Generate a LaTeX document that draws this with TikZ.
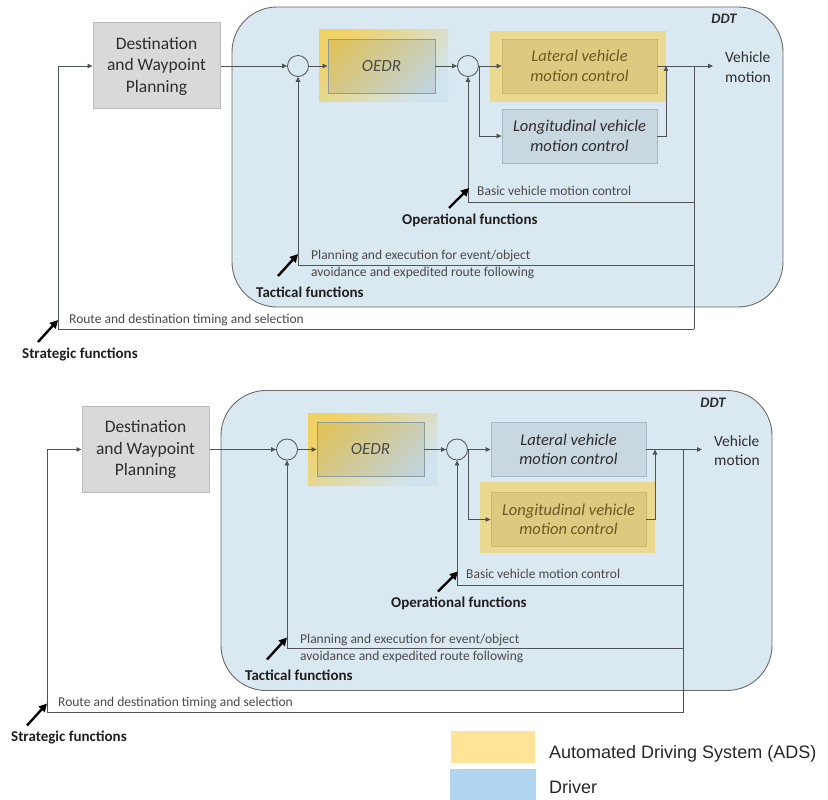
\documentclass[tikz,border=0pt]{standalone}
\usepackage{fontspec}
\setmainfont{Carlito}
\newfontfamily\legendfont{Liberation Sans}
\usetikzlibrary{arrows.meta}

\definecolor{ddtfill}{HTML}{DAE8F2}
\definecolor{ddtedge}{HTML}{6A6A6A}
\definecolor{planfill}{HTML}{D9D9D9}
\definecolor{planedge}{HTML}{BDBDBD}
\definecolor{linegray}{HTML}{4F5355}
\definecolor{textdark}{HTML}{2E2E2E}
\definecolor{textgray}{HTML}{4A4A4A}
\definecolor{adshlcol}{HTML}{EBD98F}
\definecolor{adsboxcol}{HTML}{DDCA80}
\definecolor{adsedge}{HTML}{CDB86E}
\definecolor{adstext}{HTML}{6B5B20}
\definecolor{drvboxcol}{HTML}{C8D7E0}
\definecolor{drvedge}{HTML}{A6B9C6}
\definecolor{oedryel}{HTML}{F0D164}
\definecolor{oedrblue}{HTML}{D0E4F0}
\definecolor{oedredge}{HTML}{8E9C9E}
\definecolor{adsleg}{HTML}{FFE397}
\definecolor{drvleg}{HTML}{AFD5F1}

\tikzset{
  conn/.style={draw=linegray, line width=0.8pt},
  arr/.style={conn, -{Triangle[length=5pt,width=4.5pt]}},
  funcarr/.style={draw=black, line width=2.4pt, -{Triangle[length=8pt,width=8pt]}},
  ddtbox/.style={draw=ddtedge, line width=0.9pt, fill=ddtfill, rounded corners=45pt,
    minimum width=551pt, minimum height=300pt, inner sep=0pt},
  ddtlbl/.style={font=\bfseries\itshape\fontsize{14.5}{17}\selectfont, text=textdark, inner sep=0pt},
  planbox/.style={draw=planedge, line width=1pt, fill=planfill, minimum width=127pt,
    minimum height=86pt, inner sep=0pt, align=center,
    font=\fontsize{17.5}{21.5}\selectfont, text=textdark},
  sumnode/.style={circle, draw=linegray, line width=0.8pt, fill=ddtfill,
    minimum size=21pt, inner sep=0pt},
  boxtext/.style={align=center, inner sep=0pt, font=\itshape\fontsize{16.5}{19.5}\selectfont},
  adshl/.style={fill=adshlcol, draw=none, inner sep=0pt},
  adsbox/.style={boxtext, fill=adsboxcol, draw=adsedge, line width=0.9pt, text=adstext,
    minimum width=155pt, minimum height=54pt},
  drvbox/.style={boxtext, fill=drvboxcol, draw=drvedge, line width=0.9pt, text=textdark,
    minimum width=155pt, minimum height=54pt},
  oedrhl/.style={draw=none, top color=oedryel, bottom color=oedrblue, shading angle=45,
    minimum width=129pt, minimum height=72pt, inner sep=0pt},
  oedrbox/.style={boxtext, fill=black, fill opacity=0.07, text opacity=1, draw=oedredge,
    line width=0.9pt, text=textgray, minimum width=107pt, minimum height=54pt,
    font=\itshape\fontsize{17}{20}\selectfont},
  vmtext/.style={align=left, inner sep=0pt, text=textdark, font=\fontsize{15.5}{19.5}\selectfont},
  smalllbl/.style={inner sep=0pt, text=textgray, font=\fontsize{13.5}{17}\selectfont, align=left},
  funclbl/.style={inner sep=0pt, text=black!88, font=\bfseries\fontsize{15}{18}\selectfont},
  legendtxt/.style={inner sep=0pt, text=black!85, font=\legendfont\fontsize{18}{22}\selectfont},
  swatch/.style={draw=none, inner sep=0pt}
}

% One DDT control-loop panel.
% #1 shift, #2 name prefix, #3 = 1 if lateral control is ADS, #4 = 1 if longitudinal is ADS
\newcommand\ddtpanel[4]{%
\begin{scope}[shift={#1}, name prefix=#2-]
  \node[ddtbox] (ddt) at (507.5,157) {};
  \node[ddtlbl] (ddtname) at (724,19) {DDT};
  \node[planbox] (plan) at (156.5,66) {Destination\\and Waypoint\\Planning};
  \node[sumnode] (c1) at (298,66) {};
  \node[oedrhl] (oedrhl) at (383.5,66) {};
  \node[oedrbox] (oedr) at (381.5,66) {OEDR};
  \node[sumnode] (c2) at (468,66) {};
  \ifnum#3=1
    \node[adshl, minimum width=176pt, minimum height=71pt] (lathl) at (578,66.5) {};
    \node[adsbox] (lat) at (579.5,66) {Lateral vehicle\\motion control};
  \else
    \node[drvbox] (lat) at (579.5,66) {Lateral vehicle\\motion control};
  \fi
  \ifnum#4=1
    \node[adshl, minimum width=175pt, minimum height=71pt] (lonhl) at (578.5,134) {};
    \node[adsbox] (lon) at (579.5,136) {Longitudinal vehicle\\motion control};
  \else
    \node[drvbox] (lon) at (579.5,136) {Longitudinal vehicle\\motion control};
  \fi
  \node[vmtext, anchor=west] (vm) at (725,67) {Vehicle\\motion};

  % forward path
  \draw[arr] (plan.east) -- (c1.west);
  \draw[arr] (c1.east) -- (oedr.west);
  \draw[arr] (oedr.east) -- (c2.west);
  \draw[arr] (c2.east) -- (lat.west);
  \draw[arr] (c2.east) |- (lon.west);
  \coordinate (vmend) at (713,66);
  \coordinate (ljoin) at (666,66);
  \draw[arr] (lat.east) -- (vmend);
  \draw[arr] (lon.east) -| (ljoin);

  % feedback paths
  \coordinate (fork) at (694,66);
  \coordinate (fbend) at (694,329);
  \coordinate (opj) at (694,202);
  \coordinate (tcj) at (694,265);
  \coordinate (stc) at (58,329);
  \draw[conn] (fork) -- (fbend);
  \draw[arr] (opj) -| (c2.south);
  \draw[arr] (tcj) -| (c1.south);
  \draw[arr] (fbend) -- (stc) |- (plan.west);

  % loop labels
  \node[smalllbl, anchor=base west] (oplbl) at (477,195) {Basic vehicle motion control};
  \node[funclbl, anchor=base west] (opfn) at (402,224) {Operational functions};
  \coordinate (opt) at (449,208);
  \coordinate (oph) at (469,188);
  \draw[funcarr] (opt) -- (oph);

  \node[smalllbl, anchor=west] (tclbl) at (311,264.5)
    {Planning and execution for event/object\\avoidance and expedited route following};
  \node[funclbl, anchor=base west] (tcfn) at (256,297) {Tactical functions};
  \coordinate (tct) at (278,276);
  \coordinate (tch) at (298,254);
  \draw[funcarr] (tct) -- (tch);

  \node[smalllbl, anchor=base west] (stlbl) at (69,323) {Route and destination timing and selection};
  \node[funclbl, anchor=base west] (stfn) at (22,358) {Strategic functions};
  \coordinate (stt) at (38,342);
  \coordinate (sth) at (58,320);
  \draw[funcarr] (stt) -- (sth);
\end{scope}}

\begin{document}
\begin{tikzpicture}[x=1pt, y=-1pt]
  \path[use as bounding box] (0,0) rectangle (828,800);

  \ddtpanel{(0,0)}{top}{1}{0}
  \ddtpanel{(-11,383.5)}{bot}{0}{1}

  % legend
  \node[swatch, fill=adsleg, minimum width=84pt, minimum height=32pt] (adssw) at (493,747) {};
  \node[swatch, fill=drvleg, minimum width=86pt, minimum height=31pt] (drvsw) at (493,784.5) {};
  \node[legendtxt, anchor=base west] (adstxt) at (549,758) {Automated Driving System (ADS)};
  \node[legendtxt, anchor=base west] (drvtxt) at (549,793) {Driver};
\end{tikzpicture}
\end{document}
